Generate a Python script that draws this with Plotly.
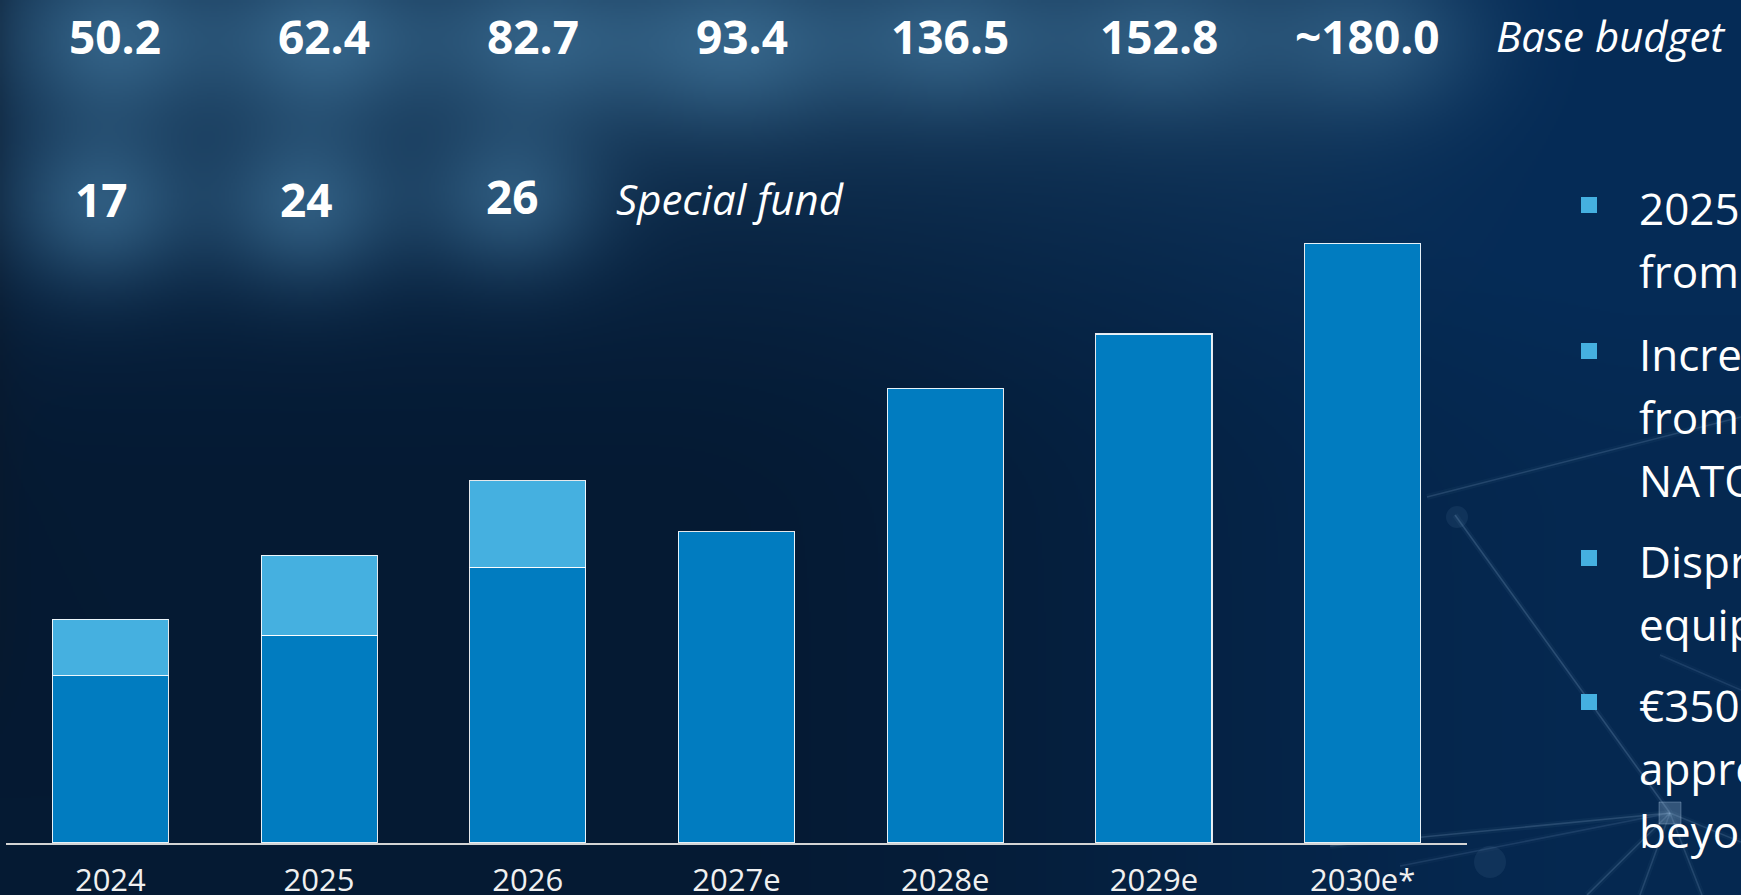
import base64
import struct
import zlib

import numpy as np
import plotly.graph_objects as go

# ---------------- data ----------------
years = ["2024", "2025", "2026", "2027e", "2028e", "2029e", "2030e*"]
base_budget = [50.2, 62.4, 82.7, 93.4, 136.5, 152.8, 180.0]
base_approx = [False, False, False, False, False, False, True]
special_fund = [17, 24, 26, None, None, None, None]
base_label_title = "Base budget"
special_label_title = "Special fund"
bullet_paragraphs = [
    ["2025", "from"],
    ["Incre", "from", "NATO"],
    ["Dispr", "equip"],
    ["€350", "appro", "beyo"],
]

# ---------------- geometry helpers ----------------
W, H = 1741, 895
ML, MR, MT, MB = 6, 274, 0, 52
PW = W - ML - MR
PH = H - MT - MB
PX_PER_UNIT = 3.3315
YMAX = PH / PX_PER_UNIT


def px(x):
    return (x - ML) / PW


def py(y):
    return (H - MB - y) / PH


# ---------------- background image ----------------
S = 2
xs = (np.arange(W // S + 1) + 0.5) * S
ys = (np.arange(H // S + 1) + 0.5) * S
X, Y = np.meshgrid(xs, ys)


def smooth(t):
    t = np.clip(t, 0, 1)
    return t * t * (3 - 2 * t)


dark = np.array([5, 26, 51], float)
right = np.array([5, 43, 86], float)
r = np.clip(smooth((X - 650) / 1000) * 0.85 + smooth((520 - Y) / 450) * 0.35, 0, 1)
img = dark * (1 - r[..., None]) + right * r[..., None]

haze_col = np.array([24, 58, 90], float)
h = np.exp(-(Y / 230.0) ** 2) * (1 - smooth((X - 1250) / 350)) * 0.8
img = img * (1 - h[..., None]) + haze_col * h[..., None]

edge = np.exp(-X / 22.0) * 0.45 * (1 - smooth((Y - 600) / 200))
img = img * (1 - edge[..., None]) + np.array([10, 24, 42], float) * edge[..., None]

glow_col = np.array([62, 114, 152], float)
blobs = [
    (113, 40, 70, 55, 0.70), (322, 40, 72, 55, 0.75), (531, 40, 72, 55, 0.65),
    (730, 45, 85, 60, 0.75), (950, 40, 78, 55, 0.65), (1160, 40, 78, 55, 0.60),
    (1369, 40, 78, 55, 0.55),
    (101, 205, 65, 58, 0.68), (306, 205, 65, 58, 0.68), (512, 198, 65, 56, 0.62),
]
g = np.zeros_like(X)
for bx, by, sx, sy, a in blobs:
    g += a * np.exp(-(((X - bx) ** 2) / (2 * sx ** 2) + ((Y - by) ** 2) / (2 * sy ** 2)))
g = np.clip(g, 0, 0.85)
img = img * (1 - g[..., None]) + glow_col * g[..., None]
img = np.clip(img, 0, 255).astype(np.uint8)


def make_png(rgb):
    hh, ww, _ = rgb.shape
    raw = b"".join(b"\x00" + rgb[i].tobytes() for i in range(hh))

    def chunk(t, d):
        return struct.pack(">I", len(d)) + t + d + struct.pack(">I", zlib.crc32(t + d) & 0xFFFFFFFF)

    ihdr = struct.pack(">IIBBBBB", ww, hh, 8, 2, 0, 0, 0)
    return b"\x89PNG\r\n\x1a\n" + chunk(b"IHDR", ihdr) + chunk(b"IDAT", zlib.compress(raw, 9)) + chunk(b"IEND", b"")


bg_uri = "data:image/png;base64," + base64.b64encode(make_png(img)).decode()

# ---------------- figure ----------------
BASE_COL = "#017cc0"
SPECIAL_COL = "#45b0e0"
OUTLINE = dict(color="rgba(255,255,255,0.9)", width=1.1)

fig = go.Figure()
fig.add_trace(go.Bar(x=years, y=base_budget, name=base_label_title,
                     marker=dict(color=BASE_COL, line=OUTLINE), hoverinfo="x+y"))
fig.add_trace(go.Bar(x=years, y=special_fund, name=special_label_title,
                     marker=dict(color=SPECIAL_COL, line=OUTLINE), hoverinfo="x+y"))

annotations = []
NUM_FONT = dict(family="Open Sans", size=46, color="#ffffff")
for i, v in enumerate(base_budget):
    txt = ("~" if base_approx[i] else "") + f"{v:.1f}"
    annotations.append(dict(x=i, xref="x", y=py(36), yref="paper", text=f"<b>{txt}</b>",
                            showarrow=False, xanchor="center", yanchor="middle", xshift=5,
                            font=NUM_FONT))
special_shift = [-9, -13, -15]
k = 0
for i, v in enumerate(special_fund):
    if v is None:
        continue
    annotations.append(dict(x=i, xref="x", y=py(199 - 3 * (k == 2)), yref="paper",
                            text=f"<b>{v:d}</b>", showarrow=False, xanchor="center",
                            yanchor="middle", xshift=special_shift[k], font=NUM_FONT))
    k += 1

ITAL_FONT = dict(family="Open Sans", size=42, color="#ffffff")
annotations.append(dict(x=px(1494), xref="paper", y=py(36), yref="paper",
                        text=f"<i>{base_label_title}</i>", showarrow=False,
                        xanchor="left", yanchor="middle", font=ITAL_FONT))
annotations.append(dict(x=px(614), xref="paper", y=py(198), yref="paper",
                        text=f"<i>{special_label_title}</i>", showarrow=False,
                        xanchor="left", yanchor="middle", font=ITAL_FONT))

# bullet text (cropped at the right edge in the reference)
para_start = [225, 371, 578, 722]
LINE_GAP = 63
shapes = []
for p, lines in enumerate(bullet_paragraphs):
    b0 = para_start[p]
    sq_c = b0 - 20
    shapes.append(dict(type="rect", xref="paper", yref="paper",
                       x0=px(1581), x1=px(1597), y0=py(sq_c + 8), y1=py(sq_c - 8),
                       fillcolor=SPECIAL_COL, line=dict(width=0), layer="above"))
    for j, line in enumerate(lines):
        base_y = b0 + j * LINE_GAP
        annotations.append(dict(x=px(1637), xref="paper", y=py(base_y - 17), yref="paper",
                                text=line, showarrow=False, xanchor="left", yanchor="middle",
                                font=dict(family="Open Sans", size=44, color="#ffffff")))

# faint, soft network lines in the lower right
node = (1670, 813)
net_lines = [
    ((1455, 515), node, 1.0),
    ((1427, 497), (1741, 417), 0.8),
    ((1330, 846), node, 0.9),
    ((1400, 866), node, 0.6),
    (node, (1587, 895), 0.9),
    (node, (1640, 895), 0.8),
    (node, (1702, 895), 0.8),
    (node, (1741, 842), 0.8),
    ((1660, 655), (1741, 690), 0.6),
]
for (x0, y0), (x1, y1), a in net_lines:
    for wdt, alpha in [(6, 0.05 * a), (1.6, 0.20 * a)]:
        shapes.append(dict(type="line", xref="paper", yref="paper",
                           x0=px(x0), y0=py(y0), x1=px(x1), y1=py(y1),
                           line=dict(color=f"rgba(165,200,235,{alpha:.3f})", width=wdt),
                           layer="below"))
shapes.append(dict(type="rect", xref="paper", yref="paper",
                   x0=px(node[0] - 11), x1=px(node[0] + 11), y0=py(node[1] + 11), y1=py(node[1] - 11),
                   fillcolor="rgba(170,200,230,0.28)", line=dict(color="rgba(190,215,240,0.30)", width=1),
                   layer="below"))
for cx, cy, rr in [(1490, 862, 16), (1457, 517, 11)]:
    shapes.append(dict(type="circle", xref="paper", yref="paper",
                       x0=px(cx - rr), x1=px(cx + rr), y0=py(cy + rr), y1=py(cy - rr),
                       fillcolor="rgba(120,160,200,0.10)", line=dict(width=0), layer="below"))

fig.update_layout(
    width=W, height=H,
    margin=dict(l=ML, r=MR, t=MT, b=MB, autoexpand=False),
    barmode="stack", bargap=0.444,
    showlegend=False,
    paper_bgcolor="#061c36", plot_bgcolor="rgba(0,0,0,0)",
    images=[dict(source=bg_uri, xref="paper", yref="paper", x=px(0), y=py(0),
                 sizex=W / PW, sizey=H / PH, xanchor="left", yanchor="top",
                 sizing="stretch", layer="below")],
    annotations=annotations,
    shapes=shapes,
    xaxis=dict(type="category", categoryorder="array", categoryarray=years,
               range=[-0.5, len(years) - 0.5],
               showgrid=False, zeroline=False, showline=True,
               linecolor="#d4d4d4", linewidth=2,
               ticks="outside", ticklen=9, tickcolor="rgba(0,0,0,0)",
               tickfont=dict(family="Open Sans", size=31, color="#f0f0f0"), fixedrange=True),
    yaxis=dict(visible=False, range=[0, YMAX], fixedrange=True),
)

fig.write_html("out.html", config={"displayModeBar": False},
               post_script="document.body.style.margin='0';document.body.style.overflow='hidden';")
